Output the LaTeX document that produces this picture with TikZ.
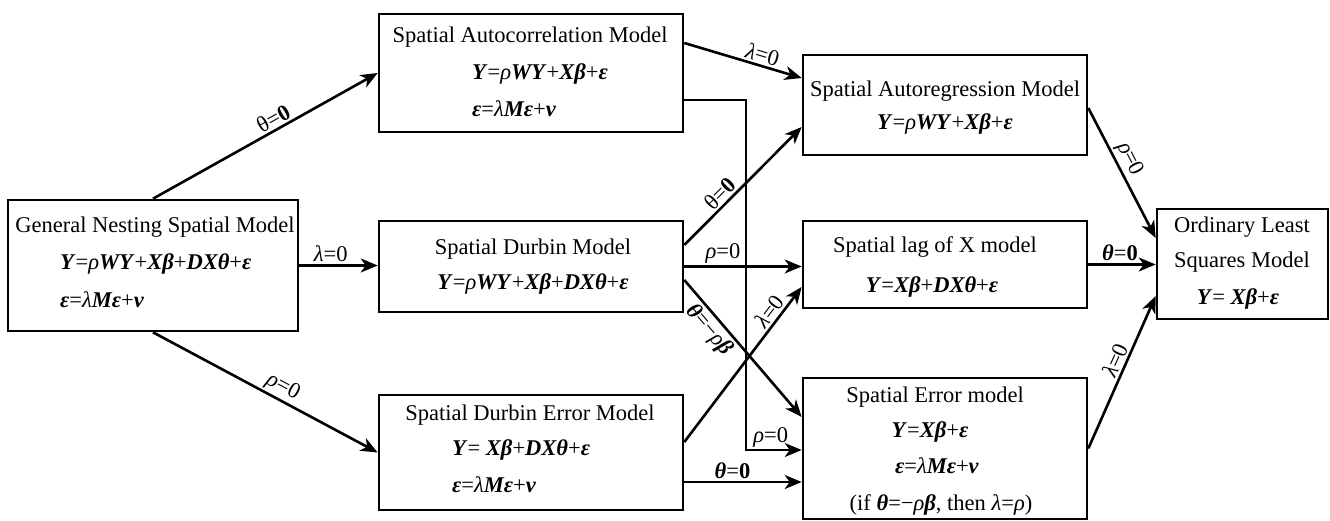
\documentclass[tikz,border=0pt]{standalone}
\usepackage{fontspec}
\setmainfont{Liberation Serif}
\usetikzlibrary{arrows.meta,calc}
\newcommand{\bi}[1]{\textbf{\textit{#1}}}
\newcommand{\ii}[1]{\textit{#1}}
\begin{document}
\begin{tikzpicture}[x=1pt,y=1pt,
  box/.style={draw,line width=2.6pt,rectangle,inner sep=0pt},
  arr/.style={line width=2.6pt,-{Stealth[length=17pt,width=14pt,inset=5pt]}},
  thinarr/.style={line width=1.7pt,-{Stealth[length=17pt,width=14pt,inset=5pt]}},
  txt/.style={inner sep=0pt,font=\fontsize{22.5}{27}\selectfont},
  lab/.style={inner sep=2pt,font=\fontsize{22.5}{27}\selectfont},
]
\useasboundingbox (0,0) rectangle (1330,-521);
% boxes
\node[box,minimum width=290pt,minimum height=131pt] (gnsm) at (153,-265.5) {};
\node[box,minimum width=304pt,minimum height=118pt] (sac) at (531,-73) {};
\node[box,minimum width=304pt,minimum height=91pt] (sdm) at (531,-266.5) {};
\node[box,minimum width=304pt,minimum height=115pt] (sdem) at (531,-452.5) {};
\node[box,minimum width=284pt,minimum height=100pt] (sar) at (945,-105) {};
\node[box,minimum width=284pt,minimum height=87pt] (slx) at (945,-264.5) {};
\node[box,minimum width=284pt,minimum height=141pt] (sem) at (945,-448.5) {};
\node[box,minimum width=171pt,minimum height=110pt] (ols) at (1242.5,-264) {};
% texts
\node[txt,anchor=base] (t1a) at (155,-233) {General Nesting Spatial Model};
\node[txt,anchor=base west] (t1b) at (60,-270) {\bi{Y}=\ii{ρ}\bi{WY}+\bi{Xβ}+\bi{DXθ}+\bi{ε}};
\node[txt,anchor=base west] (t1c) at (60,-307) {\bi{ε}=\ii{λ}\bi{Mε}+\bi{ν}};
\node[txt,anchor=base] (t2a) at (530,-43) {Spatial Autocorrelation Model};
\node[txt,anchor=base west] (t2b) at (472,-80) {\bi{Y}=\ii{ρ}\bi{WY}+\bi{Xβ}+\bi{ε}};
\node[txt,anchor=base west] (t2c) at (472,-117) {\bi{ε}=\ii{λ}\bi{Mε}+\bi{ν}};
\node[txt,anchor=base] (t3a) at (533,-255) {Spatial Durbin Model};
\node[txt,anchor=base] (t3b) at (533,-290) {\bi{Y}=\ii{ρ}\bi{WY}+\bi{Xβ}+\bi{DXθ}+\bi{ε}};
\node[txt,anchor=base] (t4a) at (530,-420) {Spatial Durbin Error Model};
\node[txt,anchor=base west] (t4b) at (452,-455) {\bi{Y}= \bi{Xβ}+\bi{DXθ}+\bi{ε}};
\node[txt,anchor=base west] (t4c) at (452,-492) {\bi{ε}=\ii{λ}\bi{Mε}+\bi{ν}};
\node[txt,anchor=base] (t5a) at (945,-97) {Spatial Autoregression Model};
\node[txt,anchor=base] (t5b) at (945,-130) {\bi{Y}=\ii{ρ}\bi{WY}+\bi{Xβ}+\bi{ε}};
\node[txt,anchor=base] (t6a) at (935,-253) {Spatial lag of X model};
\node[txt,anchor=base] (t6b) at (932,-292) {\bi{Y}=\bi{Xβ}+\bi{DXθ}+\bi{ε}};
\node[txt,anchor=base] (t7a) at (935,-402) {Spatial Error model};
\node[txt,anchor=base] (t7b) at (930,-437) {\bi{Y}=\bi{Xβ}+\bi{ε}};
\node[txt,anchor=base] (t7c) at (937,-473) {\bi{ε}=\ii{λ}\bi{Mε}+\bi{ν}};
\node[txt,anchor=base] (t7d) at (941,-510) {(if \bi{θ}=−\ii{ρ}\bi{β}, then \ii{λ}=\ii{ρ})};
\node[txt,anchor=base] (t8a) at (1242,-233) {Ordinary Least};
\node[txt,anchor=base] (t8b) at (1242,-268) {Squares Model};
\node[txt,anchor=base] (t8c) at (1238,-305) {\bi{Y}= \bi{Xβ}+\bi{ε}};
% connectors
\draw[arr] (gnsm.north) -- node[lab,sloped,above,pos=0.56]{θ=\textbf{0}} (sac.west);
\draw[arr] (gnsm.east) -- node[lab,above,pos=0.4]{\ii{λ}=0} (gnsm.east -| sdm.west);
\draw[arr] (gnsm.south) -- node[lab,sloped,above,pos=0.55]{\ii{ρ}=0} (sdem.west);
\draw[arr] ([yshift=30pt]sac.east) -- node[lab,sloped,above,pos=0.64]{\ii{λ}=0} ([yshift=27pt]sar.west);
\draw[thinarr] ([yshift=-27pt]sac.east) -- ++(62pt,0pt) |- node[lab,above,pos=0.72]{\ii{ρ}=0} ([yshift=-1.5pt]sem.west);
\draw[arr] ([yshift=21.5pt]sdm.east) -- node[lab,sloped,above,pos=0.37]{θ=\textbf{0}} ([yshift=-22pt]sar.west);
\draw[arr] (sdm.east) -- node[lab,above,pos=0.33]{\ii{ρ}=0} (sdm.east -| slx.west);
\draw[arr] ([yshift=-13.5pt]sdm.east) -- node[lab,sloped,below,pos=0.3]{\bi{θ}=−\ii{ρ}\bi{β}} ([yshift=31.5pt]sem.west);
\draw[arr] ([yshift=10.5pt]sdem.east) -- node[lab,sloped,above,pos=0.8]{\ii{λ}=0} ([yshift=-22.5pt]slx.west);
\draw[arr] ([yshift=-29.5pt]sdem.east) -- node[lab,above,pos=0.41]{\bi{θ}=\textbf{0}} ([yshift=-33.5pt]sem.west);
\draw[arr] ([yshift=-3pt]sar.east) -- node[lab,sloped,above,pos=0.44]{\ii{ρ}=0} ([yshift=26pt]ols.west);
\draw[arr] (slx.east) -- node[lab,above,pos=0.47]{\bi{θ}=\textbf{0}} (slx.east -| ols.west);
\draw[arr] (sem.east) -- node[lab,sloped,above,pos=0.55]{\ii{λ}=0} ([yshift=-32pt]ols.west);
\end{tikzpicture}
\end{document}
